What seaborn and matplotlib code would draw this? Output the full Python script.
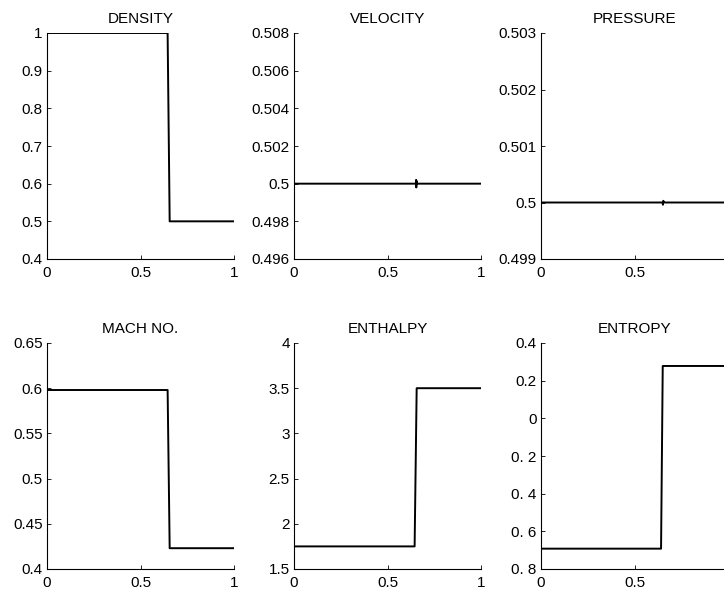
import matplotlib
matplotlib.use("Agg")
import matplotlib.pyplot as plt
import seaborn as sns
import pandas as pd

sns.set_style("ticks")
plt.rcParams['font.family'] = ['Liberation Sans', 'DejaVu Sans']
plt.rcParams['text.color'] = 'black'

# ---- data ----
x_step = [0.0, 0.645, 0.656, 1.0]
density = [1.0, 1.0, 0.5, 0.5]
mach = [0.598, 0.598, 0.423, 0.423]
enthalpy = [1.75, 1.75, 3.5, 3.5]
x_entropy = [0.0, 0.642, 0.651, 1.0]
entropy = [-0.692, -0.692, 0.278, 0.278]

x_vel = [0.0, 0.650, 0.652, 0.653, 0.654, 0.655, 0.657, 0.660, 1.0]
velocity = [0.5, 0.5, 0.50002, 0.5002, 0.4998, 0.50015, 0.49998, 0.5, 0.5]
x_pres = [0.0, 0.650, 0.652, 0.654, 0.656, 0.660, 1.0]
pressure = [0.5, 0.5, 0.49996, 0.50003, 0.50001, 0.5, 0.5]

titles = ["DENSITY", "VELOCITY", "PRESSURE", "MACH NO.", "ENTHALPY", "ENTROPY"]

x_ticks = [0, 0.5, 1]
x_ticklabels_full = ["0", "0.5", "1"]
x_ticklabels_edge = ["0", "0.5", ""]   # the "1" falls outside the figure in the reference

y_ticks = [
    [0.4, 0.5, 0.6, 0.7, 0.8, 0.9, 1.0],
    [0.496, 0.498, 0.5, 0.502, 0.504, 0.506, 0.508],
    [0.499, 0.5, 0.501, 0.502, 0.503],
    [0.4, 0.45, 0.5, 0.55, 0.6, 0.65],
    [1.5, 2.0, 2.5, 3.0, 3.5, 4.0],
    [-0.8, -0.6, -0.4, -0.2, 0.0, 0.2, 0.4],
]
y_ticklabels = [
    ["0.4", "0.5", "0.6", "0.7", "0.8", "0.9", "1"],
    ["0.496", "0.498", "0.5", "0.502", "0.504", "0.506", "0.508"],
    ["0.499", "0.5", "0.501", "0.502", "0.503"],
    ["0.4", "0.45", "0.5", "0.55", "0.6", "0.65"],
    ["1.5", "2", "2.5", "3", "3.5", "4"],
    ["0. 8", "0. 6", "0. 4", "0. 2", "0", "0.2", "0.4"],
]

series = [
    (x_step, density),
    (x_vel, velocity),
    (x_pres, pressure),
    (x_step, mach),
    (x_step, enthalpy),
    (x_entropy, entropy),
]

fig = plt.figure(figsize=(7.24, 5.89), dpi=100)

W, H = 724, 589
lefts = [47, 294, 541]
tops = [33, 343]
aw, ah = 187, 226

for i, ((xs, ys), title) in enumerate(zip(series, titles)):
    r, c = divmod(i, 3)
    left = lefts[c] / W
    bottom = 1 - (tops[r] + ah) / H
    ax = fig.add_axes([left, bottom, aw / W, ah / H])
    df = pd.DataFrame({"x": xs, "y": ys})
    sns.lineplot(data=df, x="x", y="y", ax=ax, color="black", linewidth=1.4,
                 estimator=None, sort=False)
    ax.set_xlim(0, 1)
    yt = y_ticks[i]
    ax.set_ylim(yt[0], yt[-1])
    ax.set_xticks(x_ticks)
    ax.set_xticklabels(x_ticklabels_edge if c == 2 else x_ticklabels_full)
    ax.set_yticks(yt)
    ax.set_yticklabels(y_ticklabels[i])
    ax.set_xlabel("")
    ax.set_ylabel("")
    ax.set_title(title, fontsize=11, pad=7, color="black")
    for s in ["top", "right"]:
        ax.spines[s].set_visible(False)
    for s in ["left", "bottom"]:
        ax.spines[s].set_linewidth(0.8)
        ax.spines[s].set_color("black")
    ax.tick_params(direction="in", length=3, width=0.6, labelsize=11,
                   colors="black")
    ax.tick_params(axis="x", pad=5)
    ax.tick_params(axis="y", pad=3)

fig.savefig("out.png", dpi=100, facecolor="white")
